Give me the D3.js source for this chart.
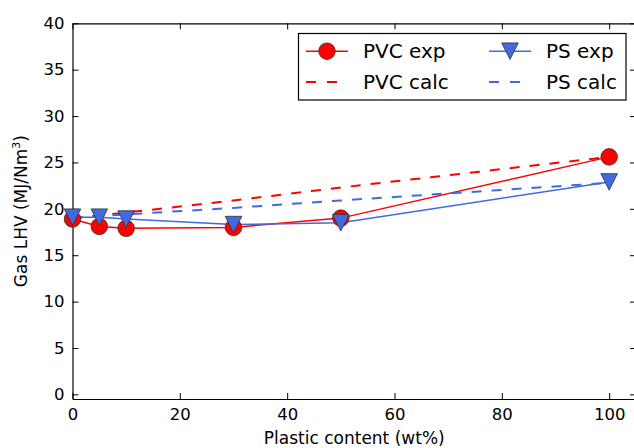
<html>
<head>
<meta charset="utf-8">
<script src="https://cdn.jsdelivr.net/npm/d3@7"></script>
<style>
  body { margin: 0; background: #fff; }
  text { font-family: "DejaVu Sans", sans-serif; }
</style>
</head>
<body>
<div id="chart"></div>
<script>
// plastic content (wt%)
var content = [0, 5, 10, 30, 50, 100];
// gas LHV (MJ/Nm3)
var pvcExp  = [18.9, 18.1, 17.9, 18.0, 19.0, 25.6];
var pvcCalc = [19.0, 19.3, 19.6, 20.9, 22.3, 25.6];
var psExp   = [19.1, 19.1, 18.9, 18.3, 18.5, 22.9];
var psCalc  = [19.0, 19.2, 19.4, 20.1, 20.9, 22.8];
var xTicks = [0, 20, 40, 60, 80, 100];
var yTicks = [0, 5, 10, 15, 20, 25, 30, 35, 40];
var seriesNames = ["PVC exp", "PVC calc", "PS exp", "PS calc"];

var width = 634, height = 448;
var margin = { top: 23.3, right: -2, bottom: 49, left: 72.5 };
var red = "#ff0000", blue = "#4169e1";

var svg = d3.select("#chart").append("svg")
  .attr("width", width).attr("height", height);

var x = d3.scaleLinear().domain([0, 105])
  .range([margin.left, width - margin.right]);
var y = d3.scaleLinear().domain([-0.5, 40])
  .range([height - margin.bottom, margin.top]);

// axes, ticks pointing inward on all four sides
var tk = 6;
svg.append("g").attr("transform", "translate(0," + y.range()[0] + ")")
  .call(d3.axisBottom(x).tickValues(xTicks).tickSizeInner(-tk).tickSizeOuter(0).tickPadding(9))
  .attr("class", "ax");
svg.append("g").attr("transform", "translate(0," + y.range()[1] + ")")
  .call(d3.axisTop(x).tickValues(xTicks).tickSizeInner(-tk).tickSizeOuter(0).tickFormat(""))
  .attr("class", "ax");
svg.append("g").attr("transform", "translate(" + x.range()[0] + ",0)")
  .call(d3.axisLeft(y).tickValues(yTicks).tickSizeInner(-tk).tickSizeOuter(0).tickPadding(8))
  .attr("class", "ax");
svg.append("g").attr("transform", "translate(" + x.range()[1] + ",0)")
  .call(d3.axisRight(y).tickValues(yTicks).tickSizeInner(-tk).tickSizeOuter(0).tickFormat(""))
  .attr("class", "ax");

svg.selectAll(".ax text").attr("font-size", "16.5px").attr("fill", "#000")
  .attr("font-family", "DejaVu Sans, sans-serif");
svg.selectAll(".ax line").attr("stroke", "#000");
svg.selectAll(".ax path").attr("stroke", "#000").attr("stroke-width", 1.2);

// axis labels
svg.append("text")
  .attr("x", (x.range()[0] + x.range()[1]) / 2)
  .attr("y", 444)
  .attr("text-anchor", "middle")
  .attr("font-size", "17px")
  .text("Plastic content (wt%)");

var yl = svg.append("text")
  .attr("transform", "translate(27," + (y.range()[0] + y.range()[1]) / 2 + ") rotate(-90)")
  .attr("text-anchor", "middle")
  .attr("font-size", "17px");
yl.append("tspan").text("Gas LHV (MJ/Nm");
yl.append("tspan").attr("font-size", "11px").attr("dy", -7).text("3");
yl.append("tspan").attr("dy", 7).text(")");

function pts(vals) {
  return content.map(function(c, i) { return [c, vals[i]]; });
}
var line = d3.line()
  .x(function(d) { return x(d[0]); })
  .y(function(d) { return y(d[1]); });

var plot = svg.append("g");
plot.append("path").datum(pts(pvcExp))
  .attr("fill", "none").attr("stroke", red).attr("stroke-width", 1.5).attr("d", line);
plot.append("path").datum(pts(pvcCalc))
  .attr("fill", "none").attr("stroke", red).attr("stroke-width", 2)
  .attr("stroke-dasharray", "10,10").attr("d", line);
plot.append("path").datum(pts(psExp))
  .attr("fill", "none").attr("stroke", blue).attr("stroke-width", 1.5).attr("d", line);
plot.append("path").datum(pts(psCalc))
  .attr("fill", "none").attr("stroke", blue).attr("stroke-width", 2)
  .attr("stroke-dasharray", "10,10").attr("d", line);

var tri = "M-8.3,-8.3L8.3,-8.3L0,8.3Z";

plot.selectAll(".pvc").data(pts(pvcExp)).enter().append("circle")
  .attr("cx", function(d) { return x(d[0]); })
  .attr("cy", function(d) { return y(d[1]); })
  .attr("r", 8.3)
  .attr("fill", red).attr("stroke", "#333").attr("stroke-width", 0.8);

plot.selectAll(".ps").data(pts(psExp)).enter().append("path")
  .attr("transform", function(d) { return "translate(" + x(d[0]) + "," + y(d[1]) + ")"; })
  .attr("d", tri)
  .attr("fill", blue).attr("stroke", "#333").attr("stroke-width", 0.8);

// legend
var lg = svg.append("g");
lg.append("rect").attr("x", 298.5).attr("y", 33.5).attr("width", 327.5).attr("height", 66.5)
  .attr("fill", "#fff").attr("stroke", "#000").attr("stroke-width", 1.2);

var cols = [306, 489];
var rows = [51.2, 82];
var base = [57.7, 89];
seriesNames.forEach(function(name, i) {
  var cx = cols[Math.floor(i / 2)], cy = rows[i % 2];
  var col = i < 2 ? red : blue;
  var dashed = i % 2 === 1;
  lg.append("line").attr("x1", cx).attr("x2", cx + 42).attr("y1", cy).attr("y2", cy)
    .attr("stroke", col).attr("stroke-width", dashed ? 2 : 1.5)
    .attr("stroke-dasharray", dashed ? "10,11" : null);
  if (i === 0) {
    lg.append("circle").attr("cx", cx + 21).attr("cy", cy).attr("r", 8.3)
      .attr("fill", red).attr("stroke", "#333").attr("stroke-width", 0.8);
  }
  if (i === 2) {
    lg.append("path").attr("transform", "translate(" + (cx + 21) + "," + cy + ")")
      .attr("d", tri).attr("fill", blue).attr("stroke", "#333").attr("stroke-width", 0.8);
  }
  lg.append("text").attr("x", cx + 57).attr("y", base[i % 2])
    .attr("font-size", "20px").text(name);
});
</script>
</body>
</html>
